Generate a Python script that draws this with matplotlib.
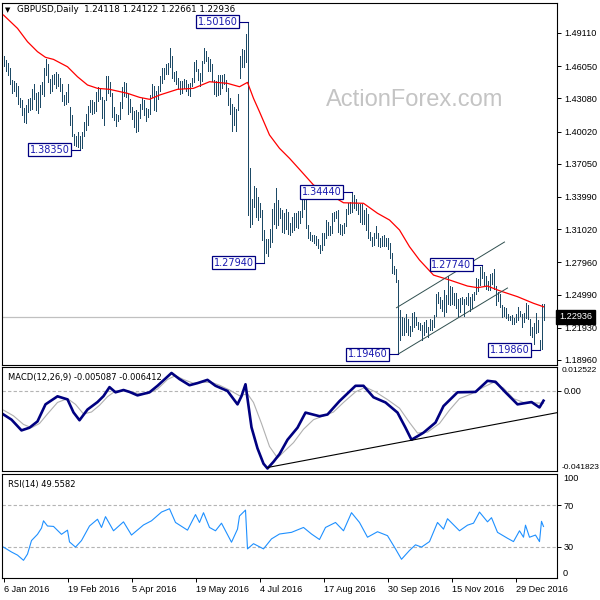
import matplotlib
matplotlib.use("Agg")
import matplotlib.pyplot as plt
from matplotlib.transforms import blended_transform_factory as btf

# ---------------- data ----------------
highs = [
 1.4700,1.4665,1.4630,1.4590,1.4480,1.4470,1.4450,1.4420,1.4310,1.4290,
 1.4220,1.4250,1.4300,1.4310,1.4390,1.4440,1.4360,1.4370,1.4430,1.4460,
 1.4590,1.4670,1.4620,1.4490,1.4520,1.4530,1.4550,1.4530,1.4500,1.4440,
 1.4340,1.4370,1.4440,1.4230,1.4150,1.3980,1.3960,1.4000,1.3960,1.4000,
 1.4090,1.4160,1.4240,1.4290,1.4290,1.4270,1.4370,1.4410,1.4400,1.4320,
 1.4290,1.4510,1.4510,1.4460,1.4360,1.4230,1.4160,1.4150,1.4270,1.4410,
 1.4460,1.4450,1.4350,1.4300,1.4230,1.4190,1.4200,1.4180,1.4260,1.4310,
 1.4290,1.4220,1.4210,1.4340,1.4440,1.4420,1.4380,1.4420,1.4510,1.4590,
 1.4590,1.4620,1.4630,1.4770,1.4700,1.4550,1.4560,1.4500,1.4470,1.4470,
 1.4490,1.4480,1.4440,1.4450,1.4500,1.4640,1.4660,1.4580,1.4540,1.4650,
 1.4770,1.4740,1.4690,1.4670,1.4620,1.4480,1.4470,1.4520,1.4520,1.4520,
 1.4530,1.4480,1.4400,1.4310,1.4260,1.4230,1.4210,1.4350,1.4700,1.4760,
 1.4750,1.4900,1.5016,1.3670,1.3380,1.3500,1.3480,1.3400,1.3340,1.3280,
 1.3090,1.3010,1.3010,1.3100,1.3290,1.3340,1.3480,1.3370,1.3300,1.3280,
 1.3250,1.3290,1.3260,1.3160,1.3210,1.3250,1.3250,1.3270,1.3270,1.3370,
 1.3380,1.3380,1.3140,1.3080,1.3050,1.3050,1.3040,1.3010,1.2960,1.3070,
 1.3070,1.3190,1.3170,1.3130,1.3250,1.3260,1.3270,1.3280,1.3150,1.3140,
 1.3160,1.3290,1.3340,1.3350,1.3444,1.3420,1.3380,1.3330,1.3330,1.3330,
 1.3280,1.3300,1.3240,1.3080,1.3030,1.3070,1.3130,1.3070,1.3020,1.3040,
 1.3050,1.3020,1.3020,1.2970,1.2880,1.2760,1.2730,1.2630,1.2360,1.2290,
 1.2280,1.2320,1.2270,1.2210,1.2330,1.2340,1.2290,1.2250,1.2240,1.2220,
 1.2250,1.2260,1.2200,1.2270,1.2260,1.2310,1.2500,1.2520,1.2480,1.2450,
 1.2540,1.2490,1.2670,1.2580,1.2570,1.2510,1.2510,1.2460,1.2470,1.2480,
 1.2460,1.2480,1.2510,1.2480,1.2500,1.2520,1.2650,1.2640,1.2750,1.2774,
 1.2710,1.2670,1.2620,1.2690,1.2700,1.2730,1.2580,1.2520,1.2500,1.2400,
 1.2380,1.2370,1.2320,1.2300,1.2310,1.2280,1.2320,1.2380,1.2350,1.2320,
 1.2330,1.2420,1.2400,1.2270,1.2200,1.2240,1.2330,1.2260,1.2080,1.2415,
 1.24122]

lows = [
 1.4610,1.4560,1.4520,1.4440,1.4360,1.4380,1.4330,1.4260,1.4230,1.4150,
 1.4090,1.4080,1.4180,1.4200,1.4210,1.4300,1.4200,1.4170,1.4230,1.4350,
 1.4330,1.4520,1.4460,1.4360,1.4380,1.4440,1.4400,1.4420,1.4380,1.4280,
 1.4250,1.4260,1.4270,1.4060,1.3960,1.3880,1.3870,1.3860,1.3835,1.3850,
 1.3960,1.4020,1.4060,1.4180,1.4160,1.4170,1.4190,1.4280,1.4300,1.4130,
 1.4060,1.4290,1.4360,1.4330,1.4140,1.4110,1.4050,1.4100,1.4120,1.4220,
 1.4330,1.4320,1.4160,1.4180,1.4120,1.4040,1.4000,1.4010,1.4130,1.4210,
 1.4150,1.4100,1.4140,1.4160,1.4320,1.4200,1.4190,1.4300,1.4380,1.4450,
 1.4490,1.4530,1.4530,1.4600,1.4500,1.4470,1.4440,1.4400,1.4350,1.4360,
 1.4400,1.4380,1.4340,1.4330,1.4420,1.4460,1.4560,1.4480,1.4420,1.4470,
 1.4630,1.4650,1.4560,1.4560,1.4470,1.4350,1.4330,1.4340,1.4350,1.4400,
 1.4440,1.4380,1.4250,1.4160,1.4010,1.4060,1.4010,1.4200,1.4500,1.4600,
 1.4600,1.4640,1.3230,1.3120,1.3150,1.3310,1.3210,1.3190,1.3210,1.3000,
 1.2794,1.2880,1.2850,1.2940,1.2980,1.3150,1.3110,1.3140,1.3200,1.3080,
 1.3070,1.3100,1.3060,1.3050,1.3080,1.3090,1.3120,1.3110,1.3160,1.3210,
 1.3290,1.3110,1.3020,1.3000,1.2990,1.2970,1.2960,1.2930,1.2880,1.2910,
 1.2960,1.3020,1.3050,1.3050,1.3070,1.3180,1.3200,1.3080,1.3060,1.3050,
 1.3070,1.3130,1.3240,1.3250,1.3260,1.3300,1.3280,1.3240,1.3170,1.3150,
 1.3150,1.3090,1.3020,1.3000,1.2950,1.2960,1.3020,1.2950,1.2940,1.2950,
 1.2950,1.2950,1.2920,1.2840,1.2700,1.2690,1.2610,1.1946,1.2080,1.2130,
 1.2130,1.2150,1.2130,1.2120,1.2160,1.2200,1.2220,1.2180,1.2170,1.2080,
 1.2130,1.2150,1.2110,1.2170,1.2170,1.2200,1.2300,1.2420,1.2370,1.2350,
 1.2300,1.2340,1.2410,1.2400,1.2410,1.2400,1.2370,1.2300,1.2340,1.2410,
 1.2300,1.2410,1.2400,1.2350,1.2370,1.2450,1.2500,1.2530,1.2590,1.2650,
 1.2580,1.2550,1.2540,1.2540,1.2600,1.2550,1.2400,1.2440,1.2380,1.2290,
 1.2300,1.2280,1.2260,1.2260,1.2230,1.2230,1.2250,1.2260,1.2300,1.2200,
 1.2250,1.2280,1.2270,1.2130,1.2110,1.2040,1.2140,1.2150,1.1986,1.2000,
 1.22661]

last_ohlc = ["1.24118", "1.24122", "1.22661", "1.22936"]
last_close = 1.22936

ma_idx = [0, 7, 12, 17, 21, 25, 32, 37, 42, 47, 53, 62, 68, 73, 78, 87, 95, 103,
          112, 118, 122, 125, 128, 133, 138, 143, 148, 155, 165, 170, 180, 187,
          193, 198, 203, 208, 215, 223, 232, 237, 242, 248, 257, 265, 270]
ma_val = [1.5076, 1.4953, 1.4830, 1.4738, 1.4686, 1.4667, 1.4599, 1.4507, 1.4431,
          1.4400, 1.4391, 1.4354, 1.4317, 1.4299, 1.4338, 1.4391, 1.4400, 1.4461,
          1.4446, 1.4415, 1.4455, 1.4308, 1.4184, 1.3970, 1.3847, 1.3755, 1.3653,
          1.3509, 1.3401, 1.3345, 1.3340, 1.3248, 1.3186, 1.3094, 1.2940, 1.2817,
          1.2678, 1.2633, 1.2577, 1.2562, 1.2577, 1.2534, 1.2479, 1.2418, 1.2386]

macd_idx = [0, 4, 9, 13, 17, 21, 27, 32, 35, 38, 42, 47, 50, 53, 56, 60, 63, 67, 73,
            77, 84, 88, 93, 97, 102, 106, 112, 117, 119, 121, 122, 124, 127, 130,
            132, 135, 138, 142, 147, 151, 158, 162, 168, 176, 180, 185, 191, 197,
            201, 204, 210, 216, 220, 227, 236, 242, 246, 251, 257, 264, 268, 270]
macd_val = [-0.0123, -0.0150, -0.0206, -0.0192, -0.0159, -0.0070, -0.0028, -0.0044,
            -0.0112, -0.0153, -0.0097, -0.0058, -0.0027, 0.0020, -0.0007, 0.0005,
            -0.0005, -0.0023, -0.0007, 0.0027, 0.0094, 0.0062, 0.0030, 0.0041,
            0.0058, 0.0027, 0.0000, -0.0070, -0.0027, 0.0035, -0.0040, -0.0190,
            -0.0300, -0.0380, -0.0405, -0.0370, -0.0330, -0.0255, -0.0192, -0.0113,
            -0.0132, -0.0123, -0.0053, 0.0027, 0.0027, -0.0033, -0.0060, -0.0113,
            -0.0192, -0.0255, -0.0218, -0.0165, -0.0079, -0.0007, -0.0005, 0.0053,
            0.0048, -0.0007, -0.0070, -0.0058, -0.0086, -0.005087]

sig_idx = [0, 5, 10, 14, 18, 22, 27, 32, 36, 40, 44, 48, 52, 56, 62, 67, 72, 77, 82,
           86, 90, 95, 100, 104, 108, 113, 118, 122, 125, 129, 133, 137, 140, 145,
           150, 155, 160, 165, 170, 176, 181, 186, 192, 198, 203, 207, 212, 218,
           223, 228, 234, 240, 245, 250, 255, 260, 265, 270]
sig_val = [-0.0100, -0.0130, -0.0175, -0.0192, -0.0170, -0.0120, -0.0060, -0.0040,
           -0.0070, -0.0120, -0.0110, -0.0075, -0.0030, 0.0000, 0.0000, -0.0012,
           -0.0015, 0.0010, 0.0060, 0.0080, 0.0060, 0.0040, 0.0045, 0.0045, 0.0030,
           0.0005, -0.0025, -0.0015, -0.0060, -0.0170, -0.0290, -0.0350, -0.0320,
           -0.0270, -0.0200, -0.0150, -0.0130, -0.0110, -0.0060, -0.0005, 0.0020,
           -0.0005, -0.0045, -0.0090, -0.0165, -0.0220, -0.0215, -0.0170, -0.0100,
           -0.0040, -0.0015, 0.0020, 0.0045, 0.0015, -0.0040, -0.0060, -0.0062,
           -0.006412]

rsi_idx = [0, 4, 7, 10, 12, 14, 17, 19, 20, 22, 25, 29, 32, 33, 36, 39, 43, 47, 49,
           51, 55, 60, 64, 70, 74, 79, 83, 86, 92, 96, 98, 100, 103, 106, 109, 114,
           117, 118, 121, 122, 125, 130, 134, 138, 144, 150, 154, 158, 161, 166,
           170, 174, 178, 182, 187, 192, 196, 199, 203, 206, 209, 213, 217, 220,
           222, 228, 232, 235, 238, 242, 244, 247, 252, 255, 258, 260, 261, 263,
           266, 268, 269, 270]
rsi_val = [29.7, 25.0, 22.0, 17.0, 23.0, 36.0, 42.0, 48.0, 55.0, 50.0, 49.6, 42.0,
           46.0, 34.7, 29.7, 36.0, 50.0, 56.5, 48.6, 59.0, 45.4, 54.0, 41.3, 51.0,
           55.0, 63.4, 66.6, 53.4, 46.0, 61.0, 53.4, 62.8, 48.6, 45.4, 52.7, 34.4,
           47.0, 59.6, 65.3, 28.0, 33.0, 28.0, 37.6, 42.3, 43.9, 48.6, 42.3, 37.0,
           48.6, 53.4, 45.4, 62.8, 53.4, 39.2, 44.5, 40.7, 28.0, 18.0, 26.5, 31.9,
           29.7, 35.0, 53.4, 47.0, 57.0, 45.4, 50.8, 52.7, 63.4, 54.0, 58.0, 43.9,
           38.2, 35.0, 45.4, 39.2, 50.8, 39.2, 41.3, 35.0, 54.5, 49.5582]

price_ticks = [1.49110, 1.46050, 1.43080, 1.40020, 1.37050, 1.33990,
               1.31020, 1.27960, 1.24990, 1.21930, 1.18960]
date_idx = [0, 32, 64, 96, 128, 160, 192, 224, 256]
date_labels = ["6 Jan 2016", "19 Feb 2016", "5 Apr 2016", "19 May 2016",
               "4 Jul 2016", "17 Aug 2016", "30 Sep 2016", "15 Nov 2016",
               "29 Dec 2016"]

label_bars = [122, 38, 130, 174, 197, 239, 268]
label_vals = [1.5016, 1.3835, 1.2794, 1.3444, 1.1946, 1.2774, 1.1986]

chan_up_idx, chan_up_val = [196.5, 250.5], [1.2377, 1.2983]
chan_lo_idx, chan_lo_val = [197, 252], [1.1946, 1.2559]
macd_tl_idx, macd_tl_val = [132, 277], [-0.0400, -0.0113]

macd_max, macd_min = 0.012522, -0.041823
macd_last, signal_last = "-0.005087", "-0.006412"
rsi_last = "49.5582"

# ---------------- drawing ----------------
plt.rcParams['font.family'] = ['DejaVu Sans']
FS = 6.0
AX_FONT = 'Liberation Sans'
AFS = 6.6
BAR = '#1d4a66'
W = H = 600
fig = plt.figure(figsize=(6, 6), dpi=100)
fig.patch.set_facecolor('white')


def rect(x0, y0, x1, y1):
    return [x0 / W, 1 - y1 / H, (x1 - x0) / W, (y1 - y0) / H]


ax1 = fig.add_axes(rect(2, 3, 557, 365))
ax2 = fig.add_axes(rect(2, 367, 557, 471))
ax3 = fig.add_axes(rect(2, 474, 557, 578))

for ax in (ax1, ax2, ax3):
    ax.set_xlim(-0.75, 276.75)
    for s in ax.spines.values():
        s.set_color('black')
        s.set_linewidth(0.8)
    ax.yaxis.tick_right()
    ax.tick_params(axis='y', direction='out', length=3, width=0.7,
                   labelsize=AFS, pad=2, colors='black')
    ax.set_facecolor('white')

for ax in (ax1, ax2):
    ax.tick_params(axis='x', bottom=False, labelbottom=False)

# --- main price panel ---
ax1.set_ylim(1.1849, 1.5187)
idx = list(range(len(highs)))
ax1.axhline(last_close, color='#c0c0c0', lw=0.9, zorder=1)
ax1.vlines(idx, lows, highs, color=BAR, lw=0.5, zorder=3, antialiased=False)
ax1.plot(ma_idx, ma_val, color='#ff0000', lw=0.9, zorder=4)
ax1.plot(chan_up_idx, chan_up_val, color='#2f4f4f', lw=0.7, zorder=4)
ax1.plot(chan_lo_idx, chan_lo_val, color='#2f4f4f', lw=0.7, zorder=4)
ax1.set_yticks(price_ticks)
ax1.set_yticklabels([f"{v:.5f}" for v in price_ticks], family=AX_FONT)

for b, v in zip(label_bars, label_vals):
    ax1.plot([b - 4.8, b], [v, v], color='#000080', lw=0.8, zorder=5)
    ax1.text(b - 5.0, v, f"{v:.5f}", ha='right', va='center', fontsize=7,
             color='#1a1ab0', zorder=6,
             bbox=dict(boxstyle='square,pad=0.18', fc='white', ec='#000080',
                       lw=0.9))

ax1.text(1.004, last_close, last_ohlc[3], transform=btf(ax1.transAxes, ax1.transData),
         ha='left', va='center', fontsize=AFS, family=AX_FONT, color='white',
         zorder=7, bbox=dict(boxstyle='square,pad=0.3', fc='black', ec='black'))

fig.text(415 / W, 1 - 100 / H, "ActionForex.com", family='Liberation Sans',
         fontsize=17, color='#c4c4c4', ha='center', va='center', zorder=0)
fig.text(5 / W, 1 - 10 / H, "\u25BC", fontsize=5, ha='left', va='center')
fig.text(17 / W, 1 - 10 / H, "GBPUSD,Daily  " + " ".join(last_ohlc),
         fontsize=6.3, ha='left', va='center')

# --- MACD panel ---
ax2.set_ylim(macd_min, macd_max)
ax2.axhline(0, color='#b4b4b4', lw=0.8, ls=(0, (3, 2)))
ax2.plot(sig_idx, sig_val, color='#b0b0b0', lw=0.8)
ax2.plot(macd_idx, macd_val, color='#000080', lw=1.9)
ax2.plot(macd_tl_idx, macd_tl_val, color='black', lw=0.8)
ax2.set_yticks([0])
ax2.set_yticklabels(["0.00"], family=AX_FONT)
tr2 = btf(ax2.transAxes, ax2.transData)
ax2.text(1.009, macd_max, f"{macd_max:.6f}", transform=tr2, ha='left', va='top',
         fontsize=6.0, family=AX_FONT)
ax2.text(1.009, macd_min, f"{macd_min:.6f}", transform=tr2, ha='left',
         va='bottom', fontsize=6.0, family=AX_FONT)
ax2.text(6 / 555, 0.9, f"MACD(12,26,9) {macd_last} {signal_last}",
         transform=ax2.transAxes, fontsize=FS, ha='left', va='center')

# --- RSI panel ---
ax3.set_ylim(0, 100)
for lv in (70, 30):
    ax3.axhline(lv, color='#b4b4b4', lw=0.8, ls=(0, (3, 2)))
ax3.plot(rsi_idx, rsi_val, color='#1e90ff', lw=0.8)
ax3.set_yticks([70, 30])
ax3.set_yticklabels(["70", "30"], family=AX_FONT)
tr3 = btf(ax3.transAxes, ax3.transData)
ax3.text(1.011, 100, "100", transform=tr3, ha='left', va='top', fontsize=AFS,
         family=AX_FONT)
ax3.text(1.011, 0, "0", transform=tr3, ha='left', va='bottom', fontsize=AFS,
         family=AX_FONT)
ax3.text(6 / 555, 0.9, f"RSI(14) {rsi_last}", transform=ax3.transAxes,
         fontsize=FS, ha='left', va='center')
ax3.set_xticks(date_idx)
ax3.set_xticklabels(date_labels, ha='left', fontsize=AFS, family=AX_FONT)
ax3.tick_params(axis='x', direction='out', length=3, width=0.7, pad=2)

fig.savefig("out.png", dpi=100, facecolor='white')
